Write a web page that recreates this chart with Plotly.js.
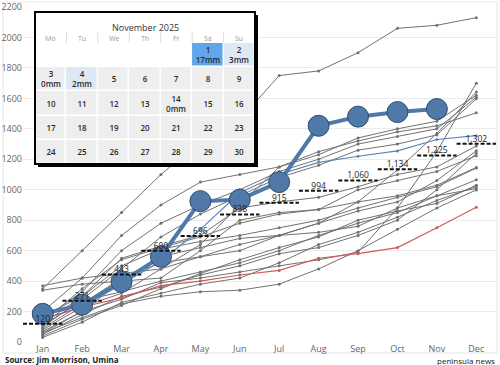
<!DOCTYPE html>
<html>
<head>
<meta charset="utf-8">
<script src="https://cdn.plot.ly/plotly-3.0.1.min.js"></script>
<style>html,body{margin:0;padding:0;background:#fff;}#chart{width:500px;height:365px;}</style>
</head>
<body>
<div id="chart"></div>
<script>
// ---------- data ----------
const months = ['Jan','Feb','Mar','Apr','May','Jun','Jul','Aug','Sep','Oct','Nov','Dec'];

// current year cumulative rainfall (mm), Jan..Nov
const currentYear = [185, 245, 395, 560, 925, 935, 1050, 1420, 1480, 1510, 1530];

// long-term average cumulative rainfall (mm)
const averageCum = [120, 271, 443, 600, 696, 838, 915, 994, 1060, 1134, 1225, 1302];

// previous years (cumulative mm)
const pastYears = [
  [350, 600, 850, 1100, 1320, 1460, 1750, 1780, 1900, 2060, 2080, 2130],
  [60, 200, 280, 390, 420, 460, 500, 540, 590, 880, 1250, 1700],
  [90, 250, 420, 520, 560, 640, 700, 780, 920, 1130, 1370, 1642],
  [370, 420, 450, 480, 640, 900, 1150, 1230, 1340, 1400, 1450, 1620],
  [150, 330, 600, 780, 900, 1000, 1120, 1200, 1300, 1350, 1400, 1608],
  [100, 280, 480, 690, 840, 960, 1080, 1160, 1260, 1300, 1360, 1597],
  [200, 420, 700, 900, 1050, 1100, 1150, 1250, 1320, 1380, 1420, 1505],
  [120, 300, 550, 630, 700, 880, 920, 950, 1020, 1100, 1150, 1287],
  [80, 230, 320, 480, 560, 600, 700, 780, 860, 920, 1060, 1256],
  [50, 180, 300, 360, 440, 500, 580, 620, 700, 800, 1000, 1240],
  [340, 380, 400, 420, 600, 800, 850, 870, 1000, 1060, 1120, 1223],
  [130, 350, 540, 620, 690, 780, 840, 870, 920, 960, 1030, 1146],
  [170, 300, 500, 610, 660, 700, 750, 800, 880, 950, 1020, 1142],
  [110, 270, 330, 400, 460, 520, 600, 700, 780, 850, 960, 1065],
  [40, 150, 240, 350, 450, 540, 620, 690, 800, 860, 910, 1030],
  [30, 130, 260, 320, 380, 420, 520, 640, 720, 820, 930, 1021],
  [70, 200, 400, 560, 620, 680, 700, 720, 760, 880, 960, 1008],
  [60, 160, 250, 300, 330, 340, 380, 480, 600, 740, 880, 999]
];
const lastYear = [150, 230, 380, 530, 740, 980, 1100, 1180, 1220, 1255, 1330, 1355];
const driestYear = [150, 230, 290, 370, 400, 440, 470, 550, 580, 620, 750, 885];

// calendar inset
const calTitle = 'November 2025';
const calYear = 2025;
const calMonthIndex = 10; // November
const weekdays = ['Mo','Tu','We','Th','Fr','Sa','Su'];
const rainDays = [1, 2, 3, 4, 14];
const rainMm = [17, 3, 0, 2, 0];

// ---------- build ----------
const xIdx = months.map((m, i) => i);
const traces = [];

pastYears.forEach(s => traces.push({
  x: xIdx, y: s, type: 'scatter', mode: 'lines+markers',
  line: {color: '#727272', width: 1}, marker: {size: 3, color: '#727272'},
  hoverinfo: 'skip', showlegend: false
}));
traces.push({x: xIdx, y: lastYear, type: 'scatter', mode: 'lines+markers',
  line: {color: '#5b86b8', width: 1.2}, marker: {size: 3, color: '#5b86b8'}, hoverinfo: 'skip'});
traces.push({x: xIdx, y: driestYear, type: 'scatter', mode: 'lines+markers',
  line: {color: '#d0595c', width: 1.2}, marker: {size: 3, color: '#d0595c'}, hoverinfo: 'skip'});

traces.push({x: xIdx.slice(0, currentYear.length), y: currentYear, type: 'scatter', mode: 'lines+markers',
  line: {color: '#4f79a8', width: 4},
  marker: {size: 21, color: '#4f79a8', line: {color: '#2e4d70', width: 1}}, hoverinfo: 'skip'});

// average dashes
const dx = [], dy = [];
averageCum.forEach((v, i) => { dx.push(i - 0.5, i + 0.5, null); dy.push(v, v, null); });
traces.push({x: dx, y: dy, type: 'scatter', mode: 'lines',
  line: {color: '#111', width: 2, dash: '4px,2px'}, hoverinfo: 'skip'});
traces.push({x: xIdx, y: averageCum, type: 'scatter', mode: 'text',
  text: averageCum.map(v => v.toLocaleString('en-US')), textposition: 'top center',
  textfont: {size: 8.5, color: '#222', family: 'Open Sans, sans-serif'}, hoverinfo: 'skip'});

// calendar heatmap
const firstDow = (new Date(calYear, calMonthIndex, 1).getDay() + 6) % 7;
const nDays = new Date(calYear, calMonthIndex + 1, 0).getDate();
const nRows = Math.ceil((firstDow + nDays) / 7);
const z = [], txt = [];
for (let r = 0; r < nRows; r++) { z.push(new Array(7).fill(0)); txt.push(new Array(7).fill('')); }
for (let d = 1; d <= nDays; d++) {
  const p = firstDow + d - 1, r = Math.floor(p / 7), c = p % 7;
  const k = rainDays.indexOf(d);
  if (k >= 0) {
    z[r][c] = rainMm[k] >= 10 ? 3 : (rainMm[k] > 0 ? 2 : 1);
    txt[r][c] = d + '<br>' + rainMm[k] + 'mm';
  } else { z[r][c] = 1; txt[r][c] = String(d); }
}
traces.push({
  type: 'heatmap', xaxis: 'x2', yaxis: 'y2', z: z, text: txt, texttemplate: '%{text}',
  x: weekdays.map((w, i) => i), y: z.map((r, i) => i),
  zmin: 0, zmax: 3, showscale: false, xgap: 1.5, ygap: 1.5, hoverinfo: 'skip',
  colorscale: [[0,'#ffffff'],[0.16,'#ffffff'],[0.17,'#eeeeee'],[0.5,'#eeeeee'],[0.5,'#dce8f4'],[0.83,'#dce8f4'],[0.84,'#5fa6ea'],[1,'#5fa6ea']],
  textfont: {size: 8, color: '#2a2a2a', family: 'Open Sans, sans-serif', weight: 600}
});

const annotations = [
  {xref: 'x2', yref: 'y2', x: 3, y: -1.12, text: calTitle, showarrow: false,
   font: {size: 9, color: '#333', family: 'Open Sans, sans-serif'}},
  {xref: 'paper', yref: 'paper', x: -0.042, y: -0.054, xanchor: 'left', yanchor: 'middle',
   text: '<b>Source: Jim Morrison, Umina</b>', showarrow: false,
   font: {size: 8, color: '#222', family: 'Open Sans, sans-serif'}},
  {xref: 'paper', yref: 'paper', x: 1.002, y: -0.054, xanchor: 'right', yanchor: 'middle',
   text: 'peninsula news', showarrow: false,
   font: {size: 8, color: '#222', family: 'Open Sans, sans-serif'}}
];
weekdays.forEach((w, i) => annotations.push({xref: 'x2', yref: 'y2', x: i, y: -0.7, text: w,
  showarrow: false, font: {size: 7, color: '#999', family: 'Open Sans, sans-serif'}}));

const shapes = [
  {type: 'rect', xref: 'paper', yref: 'paper', x0: -0.042, x1: 1.002, y0: -0.033, y1: 1.015,
   line: {color: '#e6e6e6', width: 1}, layer: 'below'},
  {type: 'rect', xref: 'paper', yref: 'paper', x0: 0.0254, x1: 0.4905, y0: 0.5313, y1: 0.9851,
   line: {color: '#000', width: 2}, layer: 'above'},
  {type: 'rect', xref: 'paper', yref: 'paper', x0: 0.4905, x1: 0.4968, y0: 0.5224, y1: 0.976,
   fillcolor: '#000', line: {width: 0}, layer: 'above'},
  {type: 'rect', xref: 'paper', yref: 'paper', x0: 0.0317, x1: 0.4968, y0: 0.5224, y1: 0.5313,
   fillcolor: '#000', line: {width: 0}, layer: 'above'}
];
for (let i = 0; i < 6; i++) shapes.push({type: 'line', xref: 'x2', yref: 'y2', x0: i + 0.5, x1: i + 0.5,
  y0: -0.95, y1: -0.5, line: {color: '#dddddd', width: 1}, layer: 'above'});

const layout = {
  width: 500, height: 365,
  margin: {l: 23, r: 4, t: 7, b: 23},
  paper_bgcolor: '#ffffff', plot_bgcolor: '#ffffff',
  showlegend: false,
  font: {family: 'Open Sans, sans-serif', size: 9, color: '#666'},
  xaxis: {type: 'linear', range: [-0.5, 11.5], tickvals: xIdx, ticktext: months,
    showgrid: false, zeroline: false, showline: false, ticks: '',
    tickfont: {size: 9, color: '#666'}},
  yaxis: {range: [0, 2200], dtick: 200, gridcolor: '#ebebeb', zeroline: false, showline: false,
    ticks: '', tickfont: {size: 9, color: '#666'}, tickformat: 'd'},
  xaxis2: {domain: [0.0254, 0.4905], anchor: 'y2', range: [-0.5, 6.5], showgrid: false,
    zeroline: false, showticklabels: false, ticks: ''},
  yaxis2: {domain: [0.5313, 0.9851], anchor: 'x2', range: [4.5, -1.78], showgrid: false,
    zeroline: false, showticklabels: false, ticks: ''},
  annotations: annotations,
  shapes: shapes
};

Plotly.newPlot('chart', traces, layout, {displayModeBar: false, staticPlot: true});
</script>
</body>
</html>
